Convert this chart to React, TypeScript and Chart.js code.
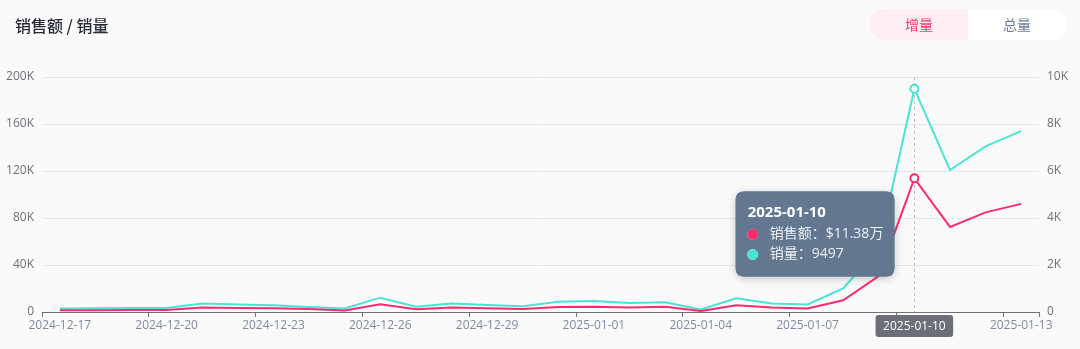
import React, { useEffect, useRef } from "react";
import { Chart, registerables, Tooltip } from "chart.js";

Chart.register(...registerables);

const dates: string[] = [
  "2024-12-17", "2024-12-18", "2024-12-19", "2024-12-20", "2024-12-21", "2024-12-22", "2024-12-23",
  "2024-12-24", "2024-12-25", "2024-12-26", "2024-12-27", "2024-12-28", "2024-12-29", "2024-12-30",
  "2024-12-31", "2025-01-01", "2025-01-02", "2025-01-03", "2025-01-04", "2025-01-05", "2025-01-06",
  "2025-01-07", "2025-01-08", "2025-01-09", "2025-01-10", "2025-01-11", "2025-01-12", "2025-01-13",
];

const salesValues: number[] = [
  1500, 1500, 1600, 1600, 3800, 3500, 3200, 2500, 1300, 6600, 2400, 3900, 3200, 2500,
  4200, 4500, 3900, 4400, 800, 5800, 3800, 3000, 10000, 30500, 113800, 72400, 84800, 92000,
];

const qtyValues: number[] = [
  150, 160, 170, 170, 365, 320, 285, 215, 150, 610, 225, 365, 300, 250,
  440, 465, 380, 410, 110, 580, 365, 320, 1000, 2700, 9497, 6040, 7050, 7700,
];

const leftTicks: number[] = [0, 40000, 80000, 120000, 160000, 200000];
const rightTicks: number[] = [0, 2000, 4000, 6000, 8000, 10000];

const activeIndex = 24;
const labelEvery = 3;

const PINK = "#FF2B6E";
const CYAN = "#4AE3D4";
const TIP_BG = "#637791";
const FONT = "'Open Sans', 'Noto Sans CJK SC', sans-serif";

(Tooltip.positioners as any).fixedLeft = function (items: any[]) {
  if (!items.length) return false;
  const x = items[0].element.x;
  const ca = (this as any).chart.chartArea;
  return { x: x - 20, y: ca.bottom - 78 };
};

const fmtK = (v: number) => (v === 0 ? "0" : `${v / 1000}K`);

const pointerPlugin = {
  id: "pointer",
  beforeDatasetsDraw(chart: any) {
    const { ctx, chartArea } = chart;
    const x = chart.scales.x.getPixelForValue(activeIndex);
    ctx.save();
    ctx.strokeStyle = "#B9BFCB";
    ctx.lineWidth = 1;
    ctx.setLineDash([3, 3]);
    ctx.beginPath();
    ctx.moveTo(Math.round(x) + 0.5, chartArea.top);
    ctx.lineTo(Math.round(x) + 0.5, chartArea.bottom);
    ctx.stroke();
    ctx.restore();
  },
  beforeTooltipDraw(chart: any, args: any) {
    const tt = args.tooltip;
    if (!tt || !tt.opacity) return;
    const { ctx } = chart;
    ctx.save();
    ctx.shadowColor = "rgba(0,0,0,0.22)";
    ctx.shadowBlur = 10;
    ctx.shadowOffsetY = 2;
    ctx.fillStyle = TIP_BG;
    ctx.beginPath();
    (ctx as any).roundRect(tt.x, tt.y, tt.width, tt.height, 8);
    ctx.fill();
    ctx.restore();
  },
  afterDraw(chart: any) {
    const { ctx, chartArea } = chart;
    const x = chart.scales.x.getPixelForValue(activeIndex);
    const text = dates[activeIndex];
    ctx.save();
    ctx.font = `12px ${FONT}`;
    const w = ctx.measureText(text).width + 15;
    const h = 22;
    const top = chartArea.bottom + 3;
    ctx.fillStyle = "#6C6F78";
    ctx.beginPath();
    (ctx as any).roundRect(x - w / 2, top, w, h, 3);
    ctx.fill();
    ctx.fillStyle = "#FFFFFF";
    ctx.textAlign = "center";
    ctx.textBaseline = "middle";
    ctx.fillText(text, x, top + h / 2 + 0.5);
    ctx.restore();
  },
};

export default function App() {
  const canvasRef = useRef<HTMLCanvasElement | null>(null);

  useEffect(() => {
    if (!canvasRef.current) return;
    const chart = new Chart(canvasRef.current, {
      type: "line",
      data: {
        labels: dates,
        datasets: [
          {
            label: "销售额",
            data: salesValues,
            yAxisID: "y",
            borderColor: PINK,
            backgroundColor: PINK,
            borderWidth: 2,
            pointRadius: 0,
            pointHoverRadius: 4,
            pointHoverBorderWidth: 2,
            pointHoverBackgroundColor: "#FFFFFF",
            pointHoverBorderColor: PINK,
            tension: 0,
          },
          {
            label: "销量",
            data: qtyValues,
            yAxisID: "y1",
            borderColor: CYAN,
            backgroundColor: CYAN,
            borderWidth: 2,
            pointRadius: 0,
            pointHoverRadius: 4,
            pointHoverBorderWidth: 2,
            pointHoverBackgroundColor: "#FFFFFF",
            pointHoverBorderColor: CYAN,
            tension: 0,
          },
        ],
      },
      options: {
        responsive: false,
        animation: false,
        events: [],
        layout: { padding: { top: 77, left: 0, right: 0, bottom: 0 } },
        interaction: { mode: "index", intersect: false },
        plugins: {
          legend: { display: false },
          tooltip: {
            position: "fixedLeft" as any,
            xAlign: "right",
            yAlign: "center",
            caretSize: 0,
            caretPadding: 0,
            backgroundColor: TIP_BG,
            titleColor: "#FFFFFF",
            bodyColor: "#EEF1F5",
            titleFont: { family: FONT, size: 15, weight: "bold", lineHeight: 20 / 15 },
            bodyFont: { family: FONT, size: 14, lineHeight: 20 / 14 },
            titleMarginBottom: 2,
            bodySpacing: 0,
            padding: { top: 11, bottom: 12, left: 12, right: 11 },
            cornerRadius: 8,
            displayColors: true,
            usePointStyle: true,
            boxWidth: 10,
            boxHeight: 10,
            boxPadding: 10,
            callbacks: {
              title: (items: any[]) => items[0].label,
              label: (ctx: any) => {
                const v = ctx.raw as number;
                if (ctx.datasetIndex === 0) return `${ctx.dataset.label}：$${(v / 10000).toFixed(2)}万`;
                return `${ctx.dataset.label}：${v}`;
              },
              labelColor: (ctx: any) => {
                const c = ctx.datasetIndex === 0 ? PINK : CYAN;
                return { borderColor: c, backgroundColor: c, borderWidth: 1 } as any;
              },
              labelPointStyle: () => ({ pointStyle: "circle", rotation: 0 }),
            },
          },
        },
        scales: {
          x: {
            type: "category",
            offset: true,
            grid: {
              offset: true,
              drawOnChartArea: false,
              drawTicks: true,
              tickLength: 5,
              tickWidth: 1,
              tickColor: (ctx: any) =>
                ctx.index === undefined || ctx.index % labelEvery === 0 ? "#6E7079" : "rgba(0,0,0,0)",
            },
            border: { display: true, color: "#6E7079", width: 1 },
            ticks: {
              autoSkip: false,
              maxRotation: 0,
              minRotation: 0,
              padding: 1,
              color: "#7F8BA1",
              font: { family: FONT, size: 12 },
              callback: (_v: any, i: number) => (i % labelEvery === 0 ? dates[i] : ""),
            },
            afterFit: (scale: any) => {
              scale.height = 37;
            },
          },
          y: {
            type: "linear",
            position: "left",
            min: 0,
            max: 200000,
            afterBuildTicks: (scale: any) => {
              scale.ticks = leftTicks.map((v) => ({ value: v }));
            },
            grid: { color: "#E3E7F2", drawTicks: false, lineWidth: 1 },
            border: { display: false },
            ticks: {
              padding: 8,
              color: "#6E7079",
              font: { family: FONT, size: 12 },
              callback: (v: any) => fmtK(Number(v)),
            },
            afterFit: (scale: any) => {
              scale.width = 42;
            },
          },
          y1: {
            type: "linear",
            position: "right",
            min: 0,
            max: 10000,
            afterBuildTicks: (scale: any) => {
              scale.ticks = rightTicks.map((v) => ({ value: v }));
            },
            grid: { drawOnChartArea: false, drawTicks: false },
            border: { display: false },
            ticks: {
              padding: 8,
              color: "#6E7079",
              font: { family: FONT, size: 12 },
              callback: (v: any) => fmtK(Number(v)),
            },
            afterFit: (scale: any) => {
              scale.width = 41;
            },
          },
        },
      },
      plugins: [pointerPlugin],
    });

    const els = [
      { datasetIndex: 0, index: activeIndex },
      { datasetIndex: 1, index: activeIndex },
    ];
    chart.setActiveElements(els);
    chart.tooltip?.setActiveElements(els, { x: 0, y: 0 });
    chart.update();

    return () => chart.destroy();
  }, []);

  return (
    <div
      style={{
        position: "fixed",
        left: 0,
        top: 0,
        width: 1080,
        height: 349,
        background: "#FAFAFB",
        overflow: "hidden",
        fontFamily: FONT,
      }}
    >
      <canvas
        ref={canvasRef}
        width={1080}
        height={349}
        style={{ position: "absolute", left: 0, top: 0, width: 1080, height: 349 }}
      />
      <div
        style={{
          position: "absolute",
          left: 15,
          top: 15,
          fontSize: 16,
          lineHeight: "21px",
          fontWeight: 500,
          color: "#262A35",
          fontFamily: "'Noto Sans CJK SC', sans-serif",
        }}
      >
        销售额 / 销量
      </div>
      <div
        style={{
          position: "absolute",
          left: 870,
          top: 9,
          width: 196,
          height: 31,
          borderRadius: 14,
          background: "#FFFFFF",
          overflow: "hidden",
          display: "flex",
          fontSize: 14,
          fontFamily: "'Noto Sans CJK SC', sans-serif",
        }}
      >
        <div
          style={{
            width: 98,
            height: 31,
            lineHeight: "31px",
            textAlign: "center",
            background: "#FFEEF1",
            color: "#F43770",
          }}
        >
          增量
        </div>
        <div
          style={{
            width: 98,
            height: 31,
            lineHeight: "31px",
            textAlign: "center",
            color: "#6A7D9A",
          }}
        >
          总量
        </div>
      </div>
    </div>
  );
}
